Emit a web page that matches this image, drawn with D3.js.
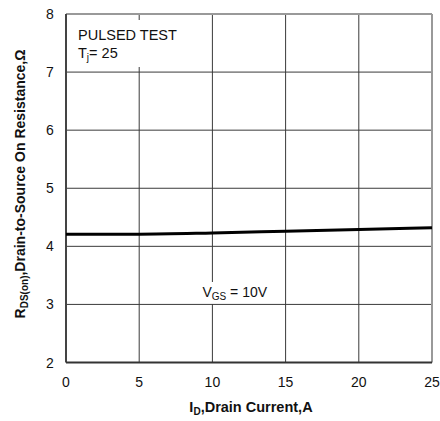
<!DOCTYPE html>
<html>
<head>
<meta charset="utf-8">
<script src="https://cdn.jsdelivr.net/npm/d3@7"></script>
<style>
  body { margin: 0; background: #fff; }
  text { font-family: "Liberation Sans", Arial, sans-serif; }
</style>
</head>
<body>
<script>
// drain current, A
var current = [0, 5, 10, 15, 20, 25]
// on resistance, ohm (VGS = 10V)
var resistance = [4.21, 4.21, 4.23, 4.26, 4.29, 4.32]

var xTicks = [0, 5, 10, 15, 20, 25]
var yTicks = [2, 3, 4, 5, 6, 7, 8]

var margin = {top: 14, right: 8, bottom: 58, left: 66},
    width = 440 - margin.left - margin.right,
    height = 421 - margin.top - margin.bottom - 0.5

var svg = d3.select("body").append("svg")
    .attr("width", 440)
    .attr("height", 421)

var g = svg.append("g")
    .attr("transform", "translate(" + margin.left + "," + margin.top + ")")

var x = d3.scaleLinear().domain([0, 25]).range([0, width])
var y = d3.scaleLinear().domain([2, 8]).range([height, 0])

// grid lines
g.selectAll("line.vgrid").data(xTicks.slice(1, -1)).enter().append("line")
    .attr("class", "vgrid")
    .attr("x1", d => x(d)).attr("x2", d => x(d))
    .attr("y1", 0).attr("y2", height)
    .attr("stroke", "#3a3a3a").attr("stroke-width", 1)

// annotation boxes hide the grid behind the text
g.append("rect").attr("x", 2).attr("y", 6).attr("width", 116).attr("height", 47).attr("fill", "#fff")
var vx = x(10)
g.append("rect").attr("x", vx - 14).attr("y", 268).attr("width", 66).attr("height", 22).attr("fill", "#fff")

g.selectAll("line.hgrid").data(yTicks.slice(1, -1)).enter().append("line")
    .attr("class", "hgrid")
    .attr("x1", 0).attr("x2", width)
    .attr("y1", d => y(d)).attr("y2", d => y(d))
    .attr("stroke", "#3a3a3a").attr("stroke-width", 1)

// frame: top and right lighter
g.append("line").attr("x1", 0).attr("x2", width).attr("y1", 0).attr("y2", 0)
    .attr("stroke", "#999").attr("stroke-width", 2)
g.append("line").attr("x1", width).attr("x2", width).attr("y1", 0).attr("y2", height)
    .attr("stroke", "#999").attr("stroke-width", 2)
g.append("line").attr("x1", 0).attr("x2", 0).attr("y1", 0).attr("y2", height)
    .attr("stroke", "#444").attr("stroke-width", 2)
g.append("line").attr("x1", 0).attr("x2", width).attr("y1", height).attr("y2", height)
    .attr("stroke", "#333").attr("stroke-width", 2)

// curve
var line = d3.line()
    .x((d, i) => x(current[i]))
    .y(d => y(d))
    .curve(d3.curveMonotoneX)

g.append("path")
    .datum(resistance)
    .attr("d", line)
    .attr("fill", "none")
    .attr("stroke", "#000")
    .attr("stroke-width", 3)

// tick labels
g.selectAll("text.xt").data(xTicks).enter().append("text")
    .attr("class", "xt")
    .attr("x", d => x(d)).attr("y", height + 24)
    .attr("text-anchor", "middle")
    .attr("font-size", 14).attr("fill", "#111")
    .text(d => d)

g.selectAll("text.yt").data(yTicks).enter().append("text")
    .attr("class", "yt")
    .attr("x", -16).attr("y", d => y(d) + 5)
    .attr("text-anchor", "middle")
    .attr("font-size", 14).attr("fill", "#111")
    .text(d => d)

// annotation text top left
var ann = g.append("text").attr("x", 12).attr("y", 26).attr("font-size", 14.5).attr("fill", "#111")
ann.text("PULSED TEST")
var ann2 = g.append("text").attr("x", 12).attr("y", 44).attr("font-size", 14.5).attr("fill", "#111")
ann2.append("tspan").text("T")
ann2.append("tspan").attr("font-size", 10).attr("dy", 3).text("j")
ann2.append("tspan").attr("dy", -3).text("= 25")

// VGS label
var vg = g.append("text").attr("x", vx - 10).attr("y", 283).attr("font-size", 14).attr("fill", "#111")
vg.append("tspan").text("V")
vg.append("tspan").attr("font-size", 10).attr("dy", 3).text("GS")
vg.append("tspan").attr("dy", -3).text(" = 10V")

// axis titles
var xt = svg.append("text")
    .attr("x", margin.left + width / 2 + 2)
    .attr("y", 412)
    .attr("text-anchor", "middle")
    .attr("font-size", 14.5).attr("font-weight", "bold").attr("fill", "#111")
xt.append("tspan").text("I")
xt.append("tspan").attr("font-size", 10).attr("dy", 3).text("D")
xt.append("tspan").attr("dy", -3).text(",Drain Current,A")

var yt = svg.append("text")
    .attr("transform", "translate(25,184) rotate(-90)")
    .attr("text-anchor", "middle")
    .attr("font-size", 14).attr("font-weight", "bold").attr("fill", "#111")
yt.append("tspan").text("R")
yt.append("tspan").attr("font-size", 10).attr("dy", 3).text("DS(on)")
yt.append("tspan").attr("dy", -3).text(",Drain-to-Source On Resistance,Ω")
</script>
</body>
</html>
